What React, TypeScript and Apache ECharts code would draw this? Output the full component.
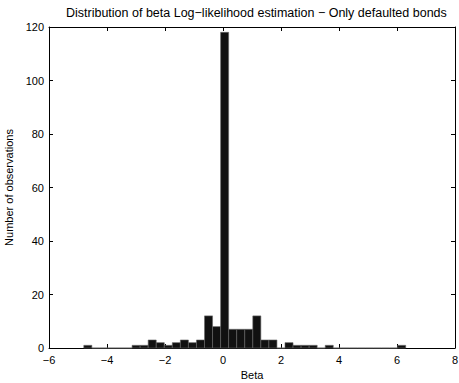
import React, { useEffect, useRef } from "react";
import * as echarts from "echarts";

const titleText = "Distribution of beta Log\u2212likelihood estimation \u2212 Only defaulted bonds";
const xName = "Beta";
const yName = "Number of observations";
const histStart = -4.8;
const binWidth = 0.2775;
const counts = [
  1, 0, 0, 0, 0, 0, 1, 1, 3, 2,
  1, 2, 3, 2, 3, 12, 8, 118, 7, 7,
  7, 12, 3, 3, 0, 2, 1, 1, 1, 0,
  1, 0, 0, 0, 0, 0, 0, 0, 0, 1,
];
const xTicks = [-6, -4, -2, 0, 2, 4, 6, 8];
const yTicks = [0, 20, 40, 60, 80, 100, 120];

const FONT = "Liberation Sans, Arial, Helvetica, sans-serif";

export default function App() {
  const ref = useRef<HTMLDivElement>(null);
  useEffect(() => {
    if (!ref.current) return;
    const chart = echarts.init(ref.current, null, { renderer: "svg" });
    const data = counts.map((c, i) => [histStart + i * binWidth, histStart + (i + 1) * binWidth, c]);
    const fmt = (v: number) => String(v).replace("-", "\u2212");
    const baseX = {
      type: "value" as const,
      min: xTicks[0],
      max: xTicks[xTicks.length - 1],
      interval: 2,
      splitLine: { show: false },
      axisLine: { show: true, onZero: false, lineStyle: { color: "#000", width: 1 } },
      axisTick: { show: true, inside: true, length: 4, lineStyle: { color: "#000" } },
    };
    const baseY = {
      type: "value" as const,
      min: yTicks[0],
      max: yTicks[yTicks.length - 1],
      interval: 20,
      splitLine: { show: false },
      axisLine: { show: true, onZero: false, lineStyle: { color: "#000", width: 1 } },
      axisTick: { show: true, inside: true, length: 4, lineStyle: { color: "#000" } },
    };
    chart.setOption({
      animation: false,
      backgroundColor: "#fff",
      title: {
        text: titleText,
        left: 66,
        top: 6,
        padding: 0,
        textStyle: { fontFamily: FONT, fontSize: 12.5, fontWeight: "normal", color: "#000" },
      },
      grid: { left: 49, right: 4, top: 27, bottom: 35, outerBoundsMode: "none", containLabel: false },
      xAxis: [
        {
          ...baseX,
          position: "bottom",
          name: xName,
          nameLocation: "middle",
          nameGap: 21,
          nameTextStyle: { fontFamily: FONT, fontSize: 11, color: "#000" },
          axisLabel: { fontFamily: FONT, fontSize: 11, color: "#000", margin: 6, formatter: fmt },
        },
        { ...baseX, position: "top", axisLabel: { show: false } },
      ],
      yAxis: [
        {
          ...baseY,
          position: "left",
          name: yName,
          nameLocation: "middle",
          nameGap: 28,
          nameTextStyle: { fontFamily: FONT, fontSize: 11, color: "#000" },
          axisLabel: { fontFamily: FONT, fontSize: 11, color: "#000", margin: 5, formatter: fmt },
        },
        { ...baseY, position: "right", axisLabel: { show: false } },
      ],
      series: [
        {
          type: "custom",
          xAxisIndex: 0,
          yAxisIndex: 0,
          data,
          renderItem: (params: any, api: any) => {
            const x0 = api.value(0);
            const x1 = api.value(1);
            const h = api.value(2);
            const p0 = api.coord([x0, 0]);
            const p1 = api.coord([x1, h]);
            return {
              type: "rect",
              shape: { x: p0[0], y: p1[1], width: p1[0] - p0[0], height: p0[1] - p1[1] },
              style: { fill: "#111", stroke: "#666", lineWidth: 0.6 },
            };
          },
        },
      ],
    });
    return () => chart.dispose();
  }, []);
  return (
    <div
      ref={ref}
      style={{ position: "fixed", left: 0, top: 0, width: 459, height: 383, background: "#fff" }}
    />
  );
}
